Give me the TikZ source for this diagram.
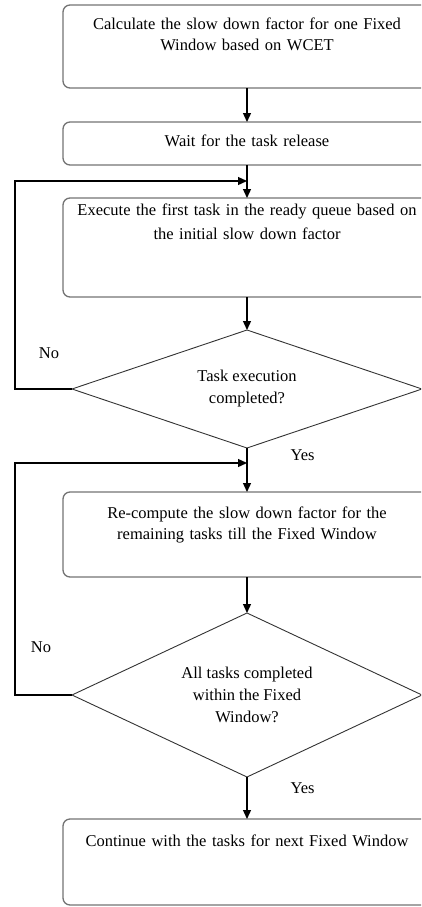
\documentclass[tikz,border=0pt]{standalone}
\usepackage{fontspec}
\setmainfont{Liberation Serif}
\usetikzlibrary{positioning,shapes.geometric,arrows.meta}
\begin{document}
\begin{tikzpicture}[x=1pt, y=1pt, node distance=34pt,
    box/.style = {draw=black!55, line width=1.3pt, rounded corners=7pt, rectangle, outer sep=0pt,
                  minimum width=368pt, text width=340pt, inner xsep=14pt, inner ysep=0pt,
                  align=center, font=\fontsize{16.5}{21}\selectfont},
    decision/.style = {draw=black!80, line width=0.9pt, diamond, inner sep=0pt, outer sep=0pt,
                  minimum width=350pt, align=center, font=\fontsize{16.5}{22}\selectfont},
    flow/.style = {line width=1.3pt, -{Triangle[length=9pt,width=8pt]}},
    tag/.style = {inner sep=0pt, font=\fontsize{16.5}{20}\selectfont}]
				\useasboundingbox (0,0) rectangle (421,-907);
				\clip (0,0) rectangle (421,-907);
				\node[box, anchor=north, text height=25pt, text depth=58pt] (b1) at (247,-5)
				  {Calculate the slow down factor for one Fixed\\ Window based on WCET};
				\node[box, text height=24pt, text depth=19pt] (b2) [below=34pt of b1] {Wait for the task release};
				\node[box, text height=17pt, text depth=82pt,
				  font=\fontsize{16.5}{24}\selectfont] (b3) [below=33pt of b2]
				  {Execute the first task in the ready queue based on\\ the initial slow down factor};
				\node[decision, minimum height=118pt, aspect=2.97] (d1) [below=33pt of b3]
				  {Task execution\\ completed?};
				\node[box, text height=26pt, text depth=59pt] (b4) [below=44pt of d1]
				  {Re-compute the slow down factor for the\\ remaining tasks till the Fixed Window};
				\node[decision, minimum height=164pt, aspect=2.13] (d2) [below=36pt of b4]
				  {All tasks completed\\ within the Fixed\\ Window?};
				\node[box, text height=27pt, text depth=59pt] (b5) [below=42pt of d2]
				  {Continue with the tasks for next Fixed Window};
				\coordinate[below=16pt of b2] (join1);
				\coordinate[below=15pt of d1] (join2);
				\draw[flow] (b1) -- (b2);
				\draw[flow] (b2) -- (b3);
				\draw[flow] (b3) -- (d1);
				\draw[flow] (d1) -- node[tag, pos=0.16, right=43pt] {Yes} (b4);
				\draw[flow] (b4) -- (d2);
				\draw[flow] (d2) -- node[tag, pos=0.26, right=43pt] {Yes} (b5);
				\draw[flow] (d1.west) -- ++(-57,0) node[tag, xshift=34pt, yshift=36pt] {No} |- (join1);
				\draw[flow] (d2.west) -- ++(-57,0) node[tag, xshift=26pt, yshift=48pt] {No} |- (join2);
			\end{tikzpicture}
\end{document}
